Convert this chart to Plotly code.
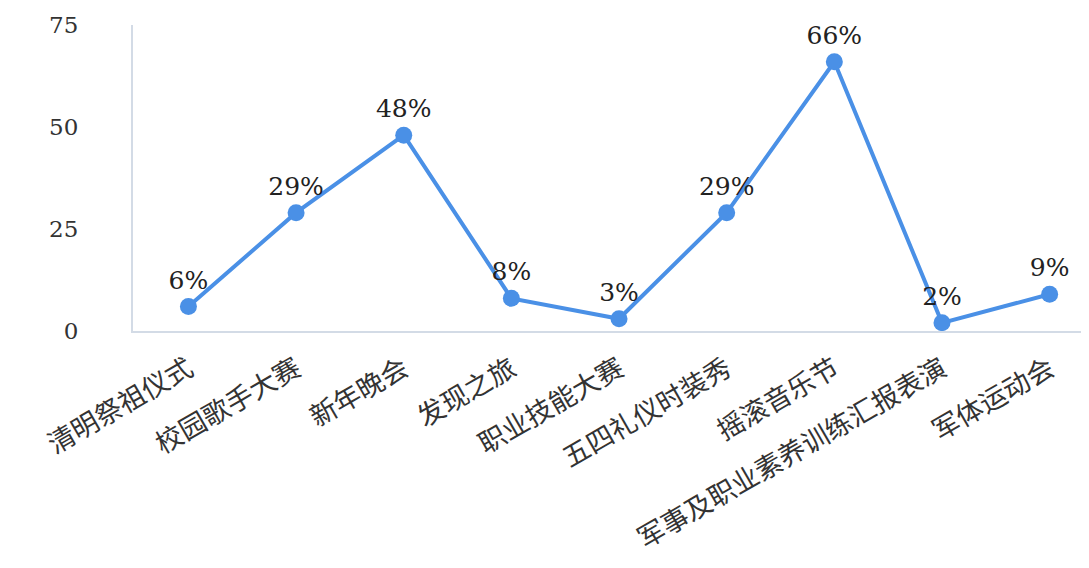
import plotly.graph_objects as go

categories = ["清明祭祖仪式", "校园歌手大赛", "新年晚会", "发现之旅", "职业技能大赛",
              "五四礼仪时装秀", "摇滚音乐节", "军事及职业素养训练汇报表演", "军体运动会"]
values = [6, 29, 48, 8, 3, 29, 66, 2, 9]
labels = ["6%", "29%", "48%", "8%", "3%", "29%", "66%", "2%", "9%"]
y_ticks = [0, 25, 50, 75]

fig = go.Figure()
fig.add_trace(go.Scatter(
    x=categories, y=values, mode="lines+markers+text",
    text=labels, textposition="top center",
    textfont=dict(family="DejaVu Serif", size=25, color="#222222"),
    line=dict(color="#4a90e6", width=4),
    marker=dict(color="#4a90e6", size=17),
    cliponaxis=False,
))

fig.update_layout(
    width=1089, height=568,
    margin=dict(l=125, r=0, t=17, b=245),
    paper_bgcolor="white", plot_bgcolor="white",
    showlegend=False,
    xaxis=dict(
        type="category", range=[-0.515, 8.44],
        showline=True, linecolor="#d3dbe6", linewidth=2,
        showgrid=False, zeroline=False, ticks="",
        tickangle=-30,
        tickfont=dict(family="Noto Sans CJK SC", size=27, color="#333333"),
        ticklabelstandoff=10,
    ),
    yaxis=dict(
        range=[0, 75], tickvals=y_ticks,
        showline=True, linecolor="#d3dbe6", linewidth=2,
        showgrid=False, zeroline=False, ticks="",
        tickfont=dict(family="DejaVu Serif", size=23, color="#333333"),
        ticklabelstandoff=48,
    ),
)

fig.write_html("out.html")
